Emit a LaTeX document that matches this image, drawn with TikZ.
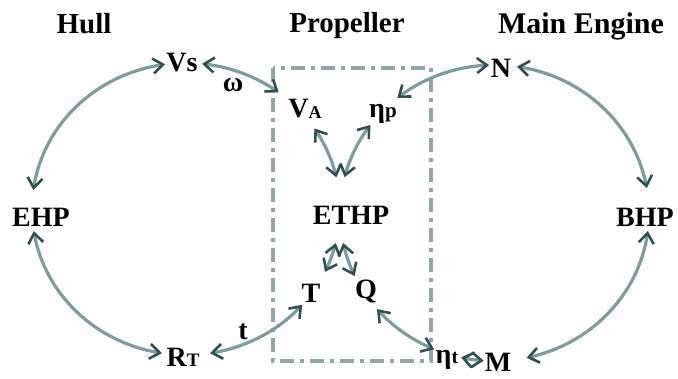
\documentclass[tikz,border=0pt]{standalone}
\usepackage{fontspec}
\setmainfont{Liberation Serif}
\usetikzlibrary{arrows.meta,bending}
\definecolor{linec}{HTML}{7C9C9E}
\definecolor{arrc}{HTML}{2E5052}
\definecolor{boxc}{HTML}{8DA6A7}
\begin{document}
\begin{tikzpicture}[x=1pt,y=1pt,
  tip/.tip={Straight Barb[color=arrc,length=10pt,width=15pt,line width=2.6pt]},
  link/.style={line width=3.2pt, draw=linec, tip-tip},
  lbl/.style={font=\fontsize{28}{28}\selectfont\bfseries, anchor=base, inner sep=0pt},
  head/.style={font=\fontsize{29}{29}\selectfont\bfseries, anchor=base, inner sep=0pt},
  frame/.style={draw=boxc, line width=3.2pt, dash pattern=on 14pt off 6pt on 4pt off 6pt}]
\useasboundingbox (0,0) rectangle (678,378);
% centres of the two cycles and the propeller frame
\coordinate (cl) at (186,169);
\coordinate (cr) at (494.5,165);
\coordinate (f1) at (273,310);
\coordinate (f2) at (431,17);
\draw[frame] (f1) rectangle (f2);
% left cycle (hull)
\foreach \a/\b in {97.8/172.5, 84/53, 33.5/12.5, -13.5/-25.5, -41/-81, -99/-171.3}
  \draw[link] ([shift={(\a:154 and 146)}]cl) arc[start angle=\a, end angle=\b, x radius=154, y radius=146];
% right cycle (main engine)
\foreach \a/\b in {166/143.5, 129/92, 81.6/9.7, -7/-78, -94/-102.5, -113/-139.5, -154.8/-168.3}
  \draw[link] ([shift={(\a:154.5 and 148)}]cr) arc[start angle=\a, end angle=\b, x radius=154.5, y radius=148];
% headings
\node[head] (hull) at (84,344) {Hull};
\node[head] (prop) at (347,345) {Propeller};
\node[head, font=\fontsize{30}{30}\selectfont\bfseries] (eng) at (581,344) {Main Engine};
% labels
\node[lbl] (vs) at (182,306) {Vs};
\node[lbl] (om) at (233,286) {ω};
\node[lbl] (va) at (305,260) {V\raisebox{-1pt}{\fontsize{18}{18}\selectfont A}};
\node[lbl] (etap) at (383,260) {η{\fontsize{21}{21}\selectfont p}};
\node[lbl] (ethp) at (351,153) {ETHP};
\node[lbl] (ehp) at (41,151) {EHP};
\node[lbl] (bhp) at (645,151) {BHP};
\node[lbl] (T) at (311,75) {T};
\node[lbl] (Q) at (366,80) {Q};
\node[lbl] (t) at (243,38) {t};
\node[lbl] (rt) at (183,12) {R{\fontsize{19}{19}\selectfont T}};
\node[lbl] (N) at (501,300) {N};
\node[lbl] (M) at (498,7) {M};
\node[lbl] (etat) at (447,15) {η{\fontsize{20}{20}\selectfont t}};
\end{tikzpicture}
\end{document}
